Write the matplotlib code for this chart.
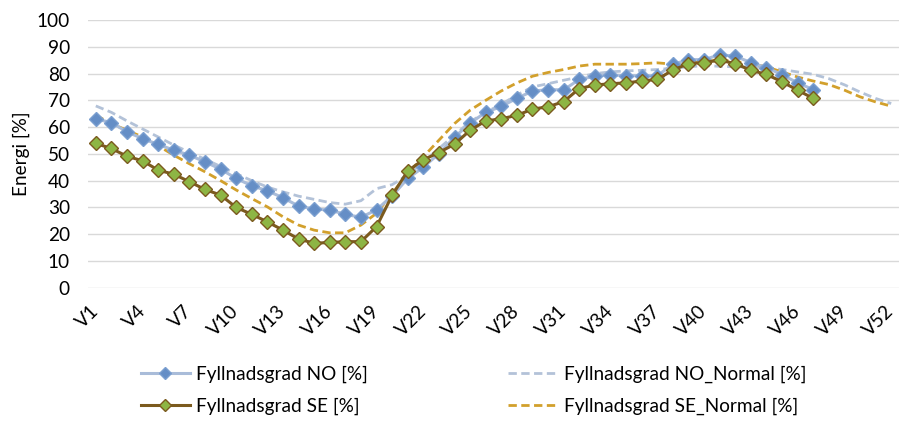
import matplotlib
matplotlib.use("Agg")
import matplotlib.pyplot as plt

plt.rcParams['font.family'] = ['Lato', 'DejaVu Sans']

weeks = [f"V{i}" for i in range(1, 53)]

no_actual = [63.0, 61.7, 58.2, 55.7, 53.5, 51.4, 49.5, 47.0, 44.3, 40.8,
             38.1, 36.2, 33.6, 30.5, 29.4, 29.0, 27.4, 26.3, 29.1, 34.3,
             40.8, 45.0, 50.1, 56.2, 61.5, 65.5, 67.7, 70.8, 73.4, 74.0,
             73.9, 77.8, 79.0, 79.5, 79.2, 79.2, 79.2, 83.4, 85.2, 85.2,
             87.0, 86.5, 84.1, 82.2, 79.6, 76.5, 74.0]

se_actual = [53.9, 52.0, 49.1, 47.4, 43.9, 42.4, 39.6, 36.7, 34.6, 30.0,
             27.4, 24.6, 21.5, 18.2, 16.6, 16.9, 17.2, 17.2, 22.8, 34.5,
             43.6, 47.8, 50.5, 53.6, 58.8, 62.3, 63.1, 64.4, 66.7, 67.6,
             69.5, 74.4, 75.7, 76.2, 76.5, 77.2, 77.8, 81.3, 83.7, 84.1,
             85.0, 83.7, 81.2, 79.7, 76.9, 73.8, 70.7]

no_normal = [67.9, 65.5, 62.3, 59.3, 56.3, 53.3, 50.6, 48.0, 45.3, 42.6,
             40.0, 37.6, 35.8, 34.2, 33.0, 31.8, 31.2, 32.5, 37.0, 38.5,
             42.0, 47.0, 52.0, 57.0, 62.0, 65.5, 68.5, 72.0, 75.0, 76.2,
             77.5, 78.7, 80.0, 80.6, 81.0, 81.2, 81.5, 82.0, 82.5, 83.0,
             82.7, 82.5, 82.5, 82.2, 81.5, 80.6, 79.7, 78.1, 75.8, 73.1,
             70.7, 68.8]

se_normal = [64.4, 61.3, 58.8, 56.3, 53.0, 49.5, 46.3, 43.3, 40.0, 36.5,
             33.3, 30.2, 26.5, 23.4, 21.5, 20.5, 20.5, 23.4, 27.8, 35.2,
             42.7, 48.9, 55.1, 61.3, 66.3, 70.0, 73.5, 76.5, 79.0, 80.4,
             81.5, 82.8, 83.5, 83.5, 83.5, 83.7, 84.0, 83.5, 84.0, 84.6,
             85.0, 84.5, 83.7, 82.5, 80.6, 78.7, 77.2, 75.9, 73.8, 71.3,
             69.4, 67.8]

labels = ["Fyllnadsgrad NO [%]", "Fyllnadsgrad SE [%]",
          "Fyllnadsgrad NO_Normal [%]", "Fyllnadsgrad SE_Normal [%]"]

FS = 13.7
W, H = 899, 421
fig = plt.figure(figsize=(W / 100, H / 100), dpi=100)
ax = fig.add_axes([88 / W, 1 - 287.7 / H, (W - 88) / W, (287.7 - 20) / H])

x_all = list(range(1, 53))
x_act = x_all[:len(no_actual)]

dash = (0, (3.0, 1.6))
l3, = ax.plot(x_all, no_normal, color='#b3c2d8', lw=2.0, linestyle=dash, zorder=2)
l4, = ax.plot(x_all, se_normal, color='#d2a02c', lw=2.0, linestyle=dash, zorder=2)
l1, = ax.plot(x_act, no_actual, color='#a9bcd9', lw=2.2, marker='D', markersize=7,
              markerfacecolor='#658ec6', markeredgecolor='#7b9fd0', markeredgewidth=1.0, zorder=3)
l2, = ax.plot(x_act, se_actual, color='#7b5a1e', lw=2.2, marker='D', markersize=7,
              markerfacecolor='#8db544', markeredgecolor='#7b5a1e', markeredgewidth=1.0, zorder=4)

ax.set_xlim(0.5, 52.5)
ax.set_ylim(0, 100)
ax.set_yticks(range(0, 101, 10))
ax.yaxis.grid(True, color='#d9d9d9', lw=1.0)
ax.set_axisbelow(True)
for s in ax.spines.values():
    s.set_visible(False)
ax.tick_params(axis='both', length=0, labelsize=FS, colors='#000000')
ax.tick_params(axis='y', pad=13)

tick_pos = x_all[::3]
ax.set_xticks(tick_pos)
ax.set_xticklabels([weeks[i - 1] for i in tick_pos], rotation=45, ha='right',
                   va='center', rotation_mode='anchor')
ax.tick_params(axis='x', pad=15)

ax.set_ylabel("Energi [%]", fontsize=FS)
ax.yaxis.set_label_coords(-58 / (W - 88), 0.5)

fig.legend([l1, l2, l3, l4], labels, ncol=2, loc='upper left',
           bbox_to_anchor=(131 / W, 1 - 356 / H), frameon=False, fontsize=FS,
           handlelength=2.6, handletextpad=0.3, columnspacing=7.4, labelspacing=0.78,
           borderpad=0.0, markerscale=0.85)

fig.savefig("out.png", dpi=100)
